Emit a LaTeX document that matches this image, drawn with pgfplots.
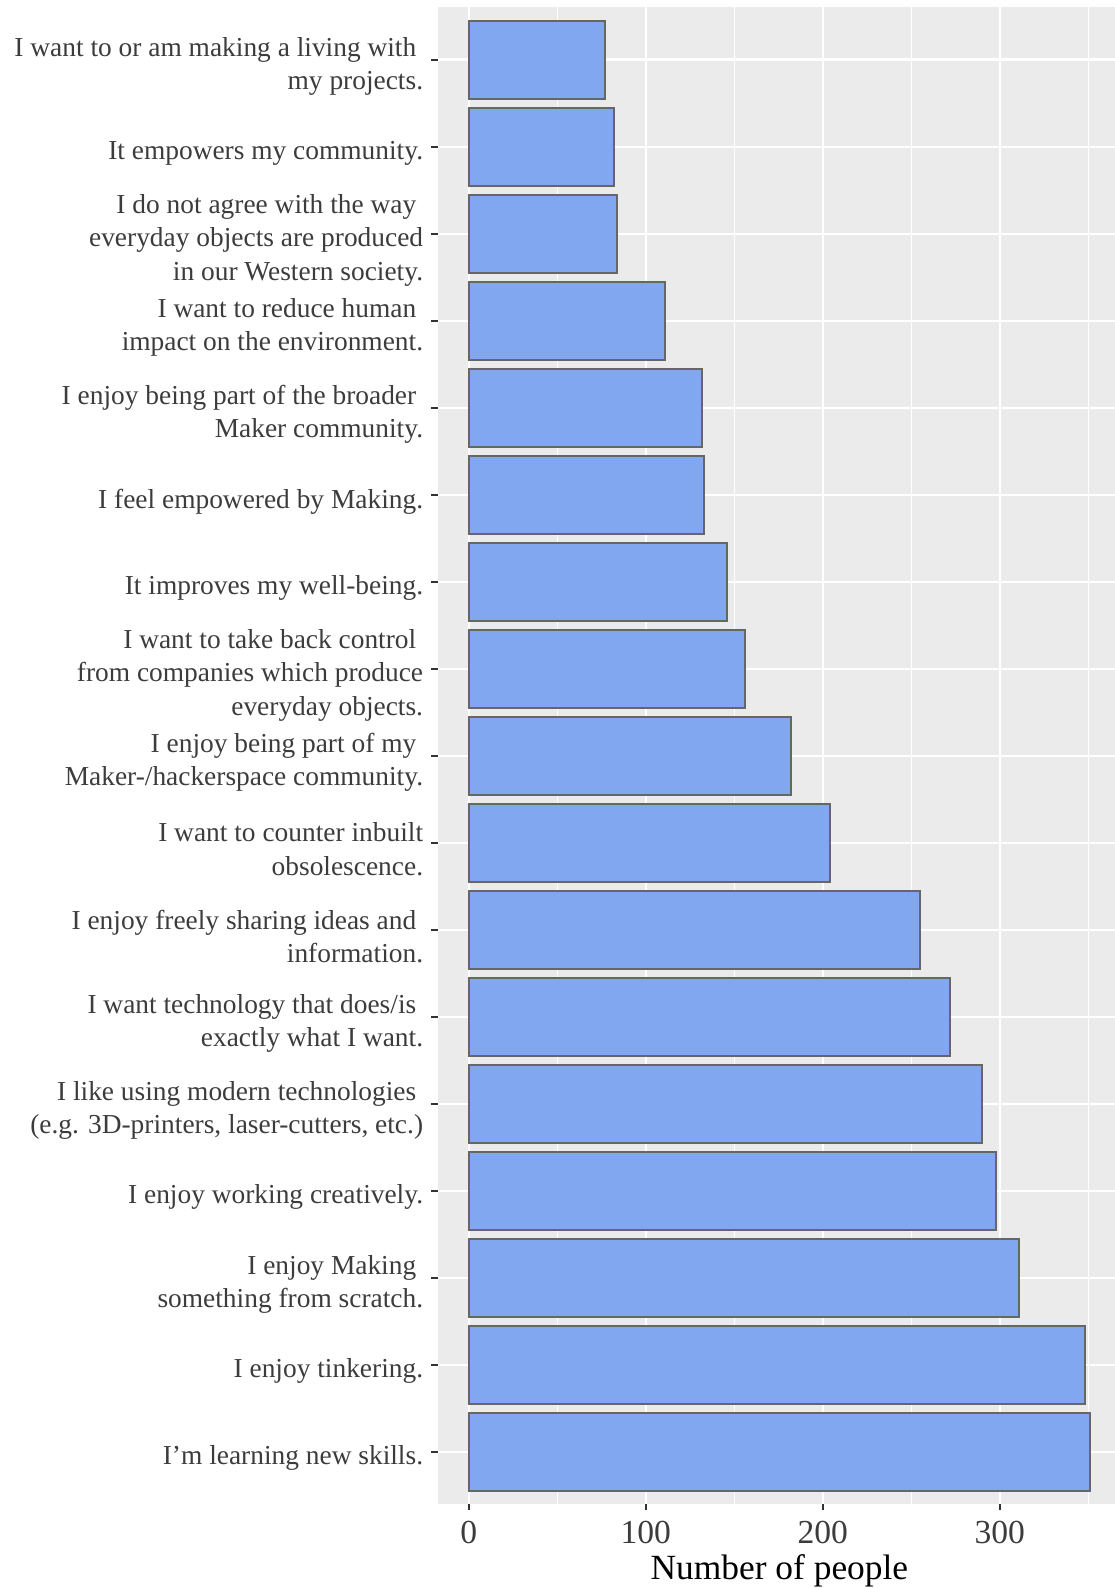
\documentclass[border=0pt]{standalone}
\usepackage{fontspec}
\setmainfont{Liberation Serif}
\usepackage{pgfplots}
\pgfplotsset{compat=1.18}
\definecolor{panelbg}{HTML}{EBEBEB}
\definecolor{barfill}{HTML}{82A7F1}
\definecolor{barline}{HTML}{666666}
\definecolor{axtext}{HTML}{3C3C3C}
\definecolor{tickcol}{HTML}{333333}
\begin{document}
\begin{tikzpicture}
\path[use as bounding box] (0,0) rectangle (557pt,794pt);
\begin{axis}[
  at={(218.85pt,42pt)}, anchor=south west,
  scale only axis, width=341.7pt, height=748.25pt,
  xmin=-17.55, xmax=368.55, ymin=0.4, ymax=17.6, y dir=reverse,
  xbar, bar width=0.9,
  axis x line*=bottom, axis y line*=left, axis line style={draw=none},
  axis background/.style={fill=panelbg},
  xtick={0,100,200,300}, minor xtick={50,150,250,350},
  ytick={1,...,17},
  xmajorgrids, xminorgrids, ymajorgrids,
  major grid style={white, line width=1.2pt},
  minor grid style={white, line width=0.6pt},
  tick align=outside, major tick length=3.2pt, minor tick length=0pt,
  tick style={tickcol, line width=0.9pt},
  /pgf/number format/assume math mode=true,
  xticklabel style={font=\fontsize{16.8pt}{20pt}\selectfont, text=axtext, anchor=base, yshift=-16.3pt},
  yticklabel style={font=\fontsize{13.7pt}{16.7pt}\selectfont, text=axtext, align=right, anchor=east, inner sep=0pt, xshift=-3.9pt, yshift=-3.3pt},
  xlabel={Number of people},
  xlabel style={font=\fontsize{17.7pt}{21pt}\selectfont, text=black, at={(axis description cs:0.5,0)}, anchor=base, yshift=-37.5pt},
  yticklabels={
    {I want to or am making a living with\hspace*{0.25em}\\my projects.},
    {It empowers my community.},
    {I do not agree with the way\hspace*{0.25em}\\everyday objects are produced\hspace*{0.25em}\\in our Western society.},
    {I want to reduce human\hspace*{0.25em}\\impact on the environment.},
    {I enjoy being part of the broader\hspace*{0.25em}\\Maker community.},
    {I feel empowered by Making.},
    {It improves my well-being.},
    {I want to take back control\hspace*{0.25em}\\from companies which produce\hspace*{0.25em}\\everyday objects.},
    {I enjoy being part of my\hspace*{0.25em}\\Maker-/hackerspace community.},
    {I want to counter inbuilt\\obsolescence.},
    {I enjoy freely sharing ideas and\hspace*{0.25em}\\information.},
    {I want technology that does/is\hspace*{0.25em}\\exactly what I want.},
    {I like using modern technologies\hspace*{0.25em}\\(e.g. 3D-printers, laser-cutters, etc.)},
    {I enjoy working creatively.},
    {I enjoy Making\hspace*{0.25em}\\something from scratch.},
    {I enjoy tinkering.},
    {I'm learning new skills.}
  },
]
\addplot[fill=barfill, draw=barline, line width=1pt] coordinates {
  (77,1) (82,2) (84,3) (111,4) (132,5) (133,6) (146,7) (156,8) (182,9)
  (204,10) (255,11) (272,12) (290,13) (298,14) (311,15) (348,16) (351,17)
};
\end{axis}
\end{tikzpicture}
\end{document}
